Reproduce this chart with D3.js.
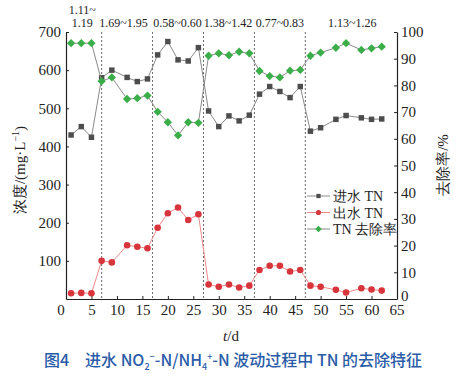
<!DOCTYPE html>
<html>
<head>
<meta charset="utf-8">
<script src="https://cdn.jsdelivr.net/npm/d3@7"></script>
<style>
  body { margin: 0; background: #fff; }
  svg text { font-family: "Liberation Serif", "DejaVu Serif", serif; }
</style>
</head>
<body>
<div id="container"></div>
<script>
// days of measurement
let days = [1, 3, 5, 7, 9, 12, 14, 16, 18, 20, 22, 24, 26, 28, 30, 32, 34, 36, 38, 40, 42, 44, 46, 48, 50, 53, 55, 58, 60, 62];
// influent TN (mg/L)
let inTN = [430, 452, 424, 580, 600, 581, 570, 577, 640, 675, 627, 624, 659, 493, 452, 480, 467, 482, 537, 557, 544, 528, 557, 440, 449, 471, 481, 475, 471, 472];
// effluent TN (mg/L)
let outTN = [15, 16, 15, 100, 96, 141, 137, 133, 187, 225, 240, 207, 222, 38, 32, 38, 30, 35, 76, 87, 87, 72, 76, 35, 32, 24, 17, 28, 25, 22];
// TN removal (%)
let removal = [95.8, 95.8, 95.8, 81.6, 83, 74.9, 75.2, 76.2, 70.1, 66.2, 61.3, 66.2, 66, 91.1, 92, 91.3, 92.6, 92, 85.4, 83.5, 83, 85.5, 85.8, 91.1, 92.3, 94.1, 95.8, 93.3, 93.9, 94.5];

let phaseBreaks = [7, 17, 27, 37, 47];
let phaseLabels = [["1.11~", "1.19"], ["1.69~1.95"], ["0.58~0.60"], ["1.38~1.42"], ["0.77~0.83"], ["1.13~1.26"]];
let phaseCenters = [3.2, 11.3, 21.9, 31.8, 42, 56.2];

let xTicks = [0, 5, 10, 15, 20, 25, 30, 35, 40, 45, 50, 55, 60, 65];
let leftTicks = [100, 200, 300, 400, 500, 600, 700];
let rightTicks = [0, 10, 20, 30, 40, 50, 60, 70, 80, 90, 100];

let w = 474;
let h = 377;

let viz = d3.select("#container")
  .append("svg")
  .attr("width", w)
  .attr("height", h);

let plotL = 66, plotR = 397, plotT = 32, plotB = 299;

let xScale = d3.scaleLinear().domain([0, 65]).range([plotL, plotR]);
let yScale = d3.scaleLinear().domain([0, 700]).range([plotB, plotT]);
let y2Scale = d3.scaleLinear().domain([0, 100]).range([plotB, plotT]);

// dashed phase dividers
viz.selectAll(".divider")
  .data(phaseBreaks)
  .enter()
  .append("line")
  .attr("x1", d => xScale(d))
  .attr("x2", d => xScale(d))
  .attr("y1", plotT)
  .attr("y2", plotB)
  .attr("stroke", "#444")
  .attr("stroke-width", 0.8)
  .attr("stroke-dasharray", "2,2");

// phase labels
phaseLabels.forEach((lines, i) => {
  let t = viz.append("text")
    .attr("x", xScale(phaseCenters[i]))
    .attr("text-anchor", "middle")
    .attr("font-size", 12)
    .attr("fill", "#222");
  lines.forEach((s, j) => {
    t.append("tspan")
      .attr("x", xScale(phaseCenters[i]))
      .attr("y", 27 - (lines.length - 1 - j) * 13)
      .text(s);
  });
});

// axes
let xAxis = viz.append("g")
  .attr("transform", `translate(0, ${plotB})`)
  .call(d3.axisBottom(xScale).tickValues(xTicks).tickSizeInner(-3).tickSizeOuter(0).tickPadding(5));
xAxis.selectAll("text").filter(d => d == 0 || d == 65).remove();

let yAxis = viz.append("g")
  .attr("transform", `translate(${plotL}, 0)`)
  .call(d3.axisLeft(yScale).tickValues(leftTicks).tickSizeInner(-3).tickSizeOuter(0).tickPadding(5));

let y2Axis = viz.append("g")
  .attr("transform", `translate(${plotR}, 0)`)
  .call(d3.axisRight(y2Scale).tickValues(rightTicks).tickSizeInner(-3).tickSizeOuter(0).tickPadding(4));

[xAxis, yAxis, y2Axis].forEach(a => {
  a.selectAll("path").attr("stroke", "#222").attr("stroke-width", 1.2);
  a.selectAll("line").attr("stroke", "#222");
  a.selectAll("text")
    .attr("font-size", 15)
    .attr("fill", "#222");
});
// right-axis 0 sits a bit higher, like the reference
y2Axis.selectAll("text").filter(d => d == 0).attr("dy", "0.1em");

// 0 and 65 labels at corners
viz.append("text").attr("x", 61).attr("y", 315).attr("text-anchor", "middle")
  .attr("font-size", 15).attr("fill", "#222").text("0");
viz.append("text").attr("x", xScale(65)).attr("y", 315).attr("text-anchor", "middle")
  .attr("font-size", 15).attr("fill", "#222").text("65");

// series
let idx = d3.range(days.length);

let series = [
  { values: inTN, scale: yScale, line: "#8a8a8a", mark: "#4d4d4d", shape: d3.symbolSquare, size: 30, name: "进水 TN" },
  { values: outTN, scale: yScale, line: "#ef8a8a", mark: "#d8343c", shape: d3.symbolCircle, size: 34, name: "出水 TN" },
  { values: removal, scale: y2Scale, line: "#8a8a8a", mark: "#3aae49", shape: d3.symbolDiamond2, size: 44, name: "TN 去除率" }
];

series.forEach(s => {
  let lineMaker = d3.line()
    .x(i => xScale(days[i]))
    .y(i => s.scale(s.values[i]));
  viz.append("path")
    .datum(idx)
    .attr("fill", "none")
    .attr("stroke", s.line)
    .attr("stroke-width", 1)
    .attr("d", lineMaker);
  viz.selectAll(null)
    .data(idx)
    .enter()
    .append("path")
    .attr("transform", i => `translate(${xScale(days[i])}, ${s.scale(s.values[i])})`)
    .attr("d", d3.symbol().type(s.shape).size(s.size))
    .attr("fill", s.mark);
});

// legend
series.forEach((s, i) => {
  let ly = 196 + i * 16.5;
  viz.append("line")
    .attr("x1", 307).attr("x2", 330).attr("y1", ly).attr("y2", ly)
    .attr("stroke", s.line).attr("stroke-width", 1);
  viz.append("path")
    .attr("transform", `translate(318.5, ${ly})`)
    .attr("d", d3.symbol().type(s.shape).size(s.size * 0.6))
    .attr("fill", s.mark);
  viz.append("text")
    .attr("x", 333).attr("y", ly + 5)
    .attr("font-size", 14)
    .attr("fill", "#222")
    .text(s.name);
});

// axis titles
viz.append("text")
  .attr("transform", "translate(25, 170) rotate(-90)")
  .attr("text-anchor", "middle")
  .attr("font-size", 15)
  .attr("fill", "#222")
  .html("浓度/(mg·L<tspan dy='-6' font-size='10'>−1</tspan><tspan dy='6'>)</tspan>");

viz.append("text")
  .attr("transform", "translate(448, 165) rotate(-90)")
  .attr("text-anchor", "middle")
  .attr("font-size", 15)
  .attr("fill", "#222")
  .text("去除率/%");

viz.append("text")
  .attr("x", 231).attr("y", 341)
  .attr("text-anchor", "middle")
  .attr("font-size", 15)
  .attr("fill", "#222")
  .html("<tspan font-style='italic'>t</tspan>/d");

// caption
viz.append("text")
  .attr("x", 233).attr("y", 366)
  .attr("text-anchor", "middle")
  .style("font-family", "'Noto Sans CJK SC', 'Noto Sans', sans-serif")
  .attr("font-size", 16)
  .attr("font-weight", 500)
  .attr("fill", "#2a5ca8")
  .html("图4　进水 NO<tspan dy='4' font-size='9'>2</tspan><tspan dy='-10' font-size='9'>−</tspan><tspan dy='6'>-N/NH</tspan><tspan dy='4' font-size='9'>4</tspan><tspan dy='-10' font-size='9'>+</tspan><tspan dy='6'>-N 波动过程中 TN 的去除特征</tspan>");
</script>
</body>
</html>
